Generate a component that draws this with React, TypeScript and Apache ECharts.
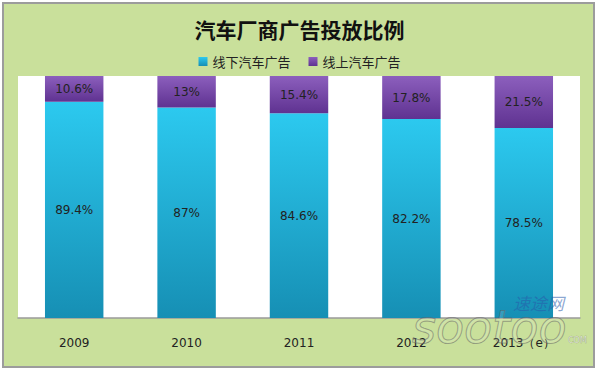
import React, { useEffect, useRef } from "react";
import * as echarts from "echarts";

const years = ["2009", "2010", "2011", "2012", "2013（e）"];
const offline = [89.4, 87, 84.6, 82.2, 78.5];
const online = [10.6, 13, 15.4, 17.8, 21.5];
const seriesNames = ["线下汽车广告", "线上汽车广告"];
const titleText = "汽车厂商广告投放比例";

export default function App() {
  const ref = useRef<HTMLDivElement>(null);
  useEffect(() => {
    const chart = echarts.init(ref.current!, null, { renderer: "svg" });
    const lg = (a: string, b: string) =>
      new echarts.graphic.LinearGradient(0, 0, 0, 1, [
        { offset: 0, color: a },
        { offset: 1, color: b },
      ]);
    chart.setOption({
      animation: false,
      backgroundColor: "#ffffff",
      graphic: [
        {
          type: "rect",
          z: -10,
          shape: { x: 3, y: 3, width: 591, height: 364 },
          style: { fill: "#c9e09b", stroke: "#9c9c9c", lineWidth: 2 },
        },
        {
          type: "text",
          z: 100,
          x: 513,
          y: 294,
          style: {
            text: "速途网",
            font: "italic 17px 'Noto Sans CJK SC'",
            fill: "rgba(40,90,170,0.55)",
          },
        },
        {
          type: "text",
          z: 100,
          x: 412,
          y: 304,
          style: {
            text: "sootoo",
            font: "italic 46px 'DejaVu Sans'",
            fill: "rgba(255,255,255,0.15)",
            stroke: "rgba(90,90,90,0.55)",
            lineWidth: 1,
          },
        },
        {
          type: "text",
          z: 100,
          x: 568,
          y: 336,
          style: {
            text: "COM",
            font: "8px 'DejaVu Sans'",
            fill: "rgba(255,255,255,0.6)",
            stroke: "rgba(90,90,90,0.5)",
            lineWidth: 0.5,
          },
        },
      ],
      title: {
        text: titleText,
        left: "center",
        top: 13,
        textStyle: {
          fontFamily: "'Noto Sans CJK SC'",
          fontWeight: "bold",
          fontSize: 21,
          color: "#111",
        },
      },
      legend: {
        top: 50,
        left: "center",
        itemWidth: 9,
        itemHeight: 9,
        itemGap: 18,
        icon: "rect",
        textStyle: { fontFamily: "'Noto Sans CJK SC'", fontSize: 13, color: "#222" },
        data: seriesNames,
      },
      grid: {
        left: 18,
        right: 19,
        top: 76,
        bottom: 54,
        show: true,
        backgroundColor: "#ffffff",
        borderWidth: 0,
      },
      xAxis: {
        type: "category",
        data: years,
        axisTick: { show: false },
        axisLine: { lineStyle: { color: "#9a9a9a", width: 1.5 } },
        axisLabel: {
          margin: 19,
          fontFamily: "'DejaVu Sans'",
          fontSize: 12,
          color: "#222",
        },
      },
      yAxis: { type: "value", min: 0, max: 100, show: false },
      series: [
        {
          name: seriesNames[0],
          type: "bar",
          stack: "a",
          barWidth: "52%",
          data: offline,
          itemStyle: { color: lg("#2cc9ef", "#168fb4") },
          label: {
            show: true,
            position: "inside",
            formatter: (p: any) => p.value + "%",
            fontFamily: "'DejaVu Sans'",
            fontSize: 12,
            color: "#222",
          },
        },
        {
          name: seriesNames[1],
          type: "bar",
          stack: "a",
          data: online,
          itemStyle: { color: lg("#8c5fbd", "#5f3291") },
          label: {
            show: true,
            position: "inside",
            formatter: (p: any) => p.value + "%",
            fontFamily: "'DejaVu Sans'",
            fontSize: 12,
            color: "#222",
          },
        },
      ],
      color: ["#29bfe6", "#6f42a6"],
    });
    return () => chart.dispose();
  }, []);
  return (
    <div
      ref={ref}
      style={{ position: "absolute", left: 0, top: 0, width: 599, height: 372 }}
    />
  );
}
